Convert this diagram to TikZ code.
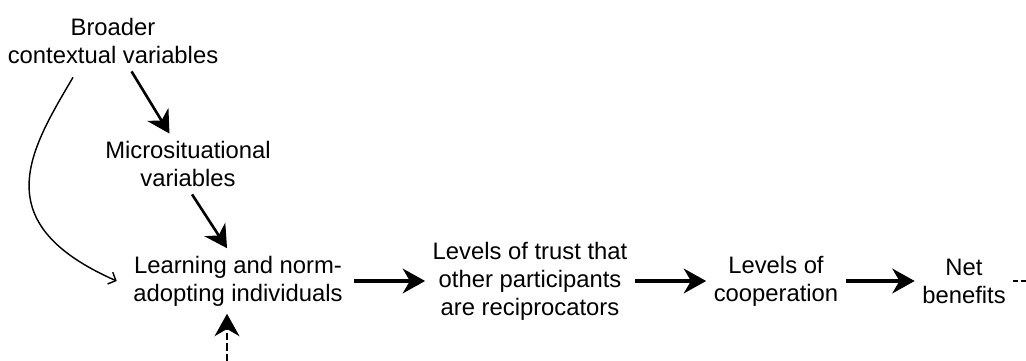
\documentclass[tikz,border=0pt]{standalone}
\usepackage{fontspec}
\setmainfont{Liberation Sans}
\usetikzlibrary{positioning,arrows.meta}

\tikzset{
    label/.style={align=center, inner sep=3pt, font=\fontsize{10}{11.8}\selectfont},
    flow/.style={line width=1.3pt, -{Stealth[length=9.4pt, width=10.4pt, inset=3pt]}},
    influence/.style={line width=1.1pt, -{Stealth[length=9.4pt, width=10.4pt, inset=3pt]}},
    thinflow/.style={line width=0.6pt, -{Straight Barb[length=2.6pt, width=5.4pt]}},
}

\begin{document}
\begin{tikzpicture}[x=0.42pt, y=-0.42pt]

        \useasboundingbox (0,0) rectangle (1026,361);

        % nodes
        \node[label] (broader) at (113,41) {Broader\\contextual variables};
        \node[label] (micro) at (188,164) {Microsituational\\variables};
        \node[label] (learning) at (238,281) {Learning and norm-\\adopting individuals};
        \node[label] (trust) at (530,281) {Levels of trust that\\other participants\\are reciprocators};
        \node[label] (coop) at (776,281) {Levels of\\cooperation};
        \node[label] (benefits) at (964,281) {Net\\benefits};

        \coordinate (feedback) at (227,361);
        \coordinate (onward) at (1026,281);

        % connectors
        \draw[influence] (broader) -- (micro);
        \draw[influence] ([xshift=1.7pt]micro.south) -- ([xshift=-4.6pt]learning.north);
        \draw[thinflow] ([xshift=-16.8pt, yshift=-2.5pt]broader.south) .. controls +(-43,73) and +(-132,-58) .. ([xshift=-3.8pt]learning.west);

        \draw[flow] ([xshift=1.5pt]learning.east) -- (trust.west);
        \draw[flow] (trust.east) -- (coop.west);
        \draw[flow] (coop.east) -- (benefits.west);

        \draw[line width=1.1pt, dash pattern=on 2pt off 1.4pt] (benefits.east) -- (onward);
        \draw[influence, dash pattern=on 3pt off 1.4pt] (feedback) -- (feedback |- learning.south);

\end{tikzpicture}
\end{document}
